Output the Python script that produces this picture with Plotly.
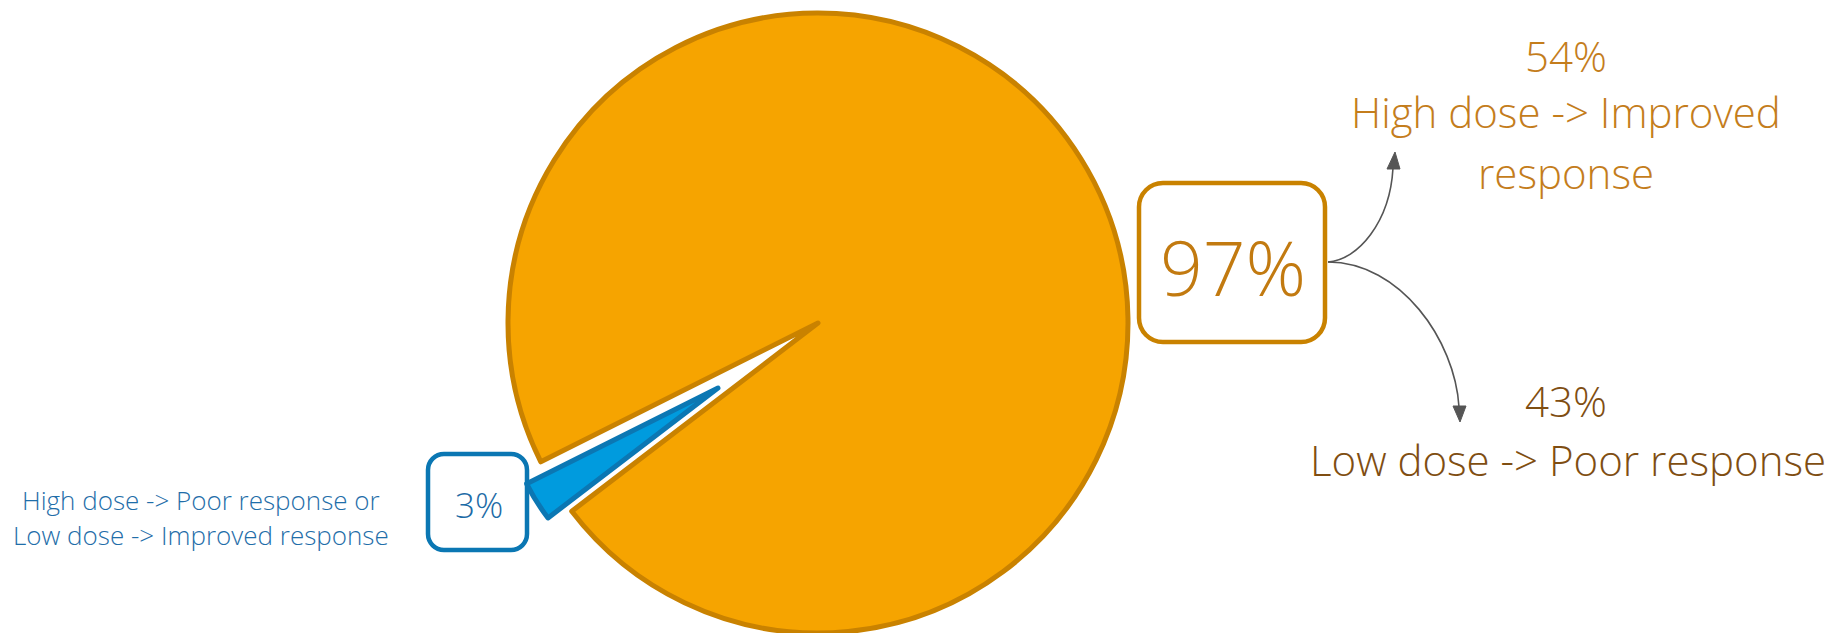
import plotly.graph_objects as go

# ---------------- data ----------------
groups = ["Concordant", "Discordant"]
shares = [97, 3]                      # % of patients
sub_shares = [54, 43]                 # split of the 97%
sub_label_lines = [["High dose -> Improved", "response"],
                   ["Low dose -> Poor response"]]
minor_label_lines = ["High dose -> Poor response or",
                     "Low dose -> Improved response"]

# ---------------- styling ----------------
W, H = 1833, 633
ORANGE, ORANGE_LINE = "#F6A400", "#C98200"
BLUE, BLUE_LINE = "#009BDE", "#0B77B3"
CLEAR = "rgba(0,0,0,0)"
FONT = "Open Sans"


def X(px):
    return px / W


def Y(py):
    return 1 - py / H


def rrect(x0, y0, x1, y1, r):
    k = 0.552 * r
    pts = [
        f"M{X(x0 + r)},{Y(y0)}", f"L{X(x1 - r)},{Y(y0)}",
        f"C{X(x1 - r + k)},{Y(y0)} {X(x1)},{Y(y0 + r - k)} {X(x1)},{Y(y0 + r)}",
        f"L{X(x1)},{Y(y1 - r)}",
        f"C{X(x1)},{Y(y1 - r + k)} {X(x1 - r + k)},{Y(y1)} {X(x1 - r)},{Y(y1)}",
        f"L{X(x0 + r)},{Y(y1)}",
        f"C{X(x0 + r - k)},{Y(y1)} {X(x0)},{Y(y1 - r + k)} {X(x0)},{Y(y1 - r)}",
        f"L{X(x0)},{Y(y0 + r)}",
        f"C{X(x0)},{Y(y0 + r - k)} {X(x0 + r - k)},{Y(y0)} {X(x0 + r)},{Y(y0)}",
        "Z",
    ]
    return " ".join(pts)


def curve(p0, p1, p2, p3):
    return (f"M{X(p0[0])},{Y(p0[1])} C{X(p1[0])},{Y(p1[1])} "
            f"{X(p2[0])},{Y(p2[1])} {X(p3[0])},{Y(p3[1])}")


def tri(a, b, c):
    return (f"M{X(a[0])},{Y(a[1])} L{X(b[0])},{Y(b[1])} "
            f"L{X(c[0])},{Y(c[1])} Z")


# geometry
cx, cy, R = 818, 323, 309          # main pie
bx, by, br = 718, 388, 214         # pulled-out small slice
# rotation: small slice centred ~32 deg below the left horizontal
mid = 270 - 32
rot = mid + shares[1] / 100 * 360 / 2 - 360

fig = go.Figure()
fig.add_trace(go.Pie(
    values=shares, labels=groups, sort=False, direction="clockwise",
    rotation=rot, textinfo="none", hoverinfo="none", showlegend=False,
    marker=dict(colors=[ORANGE, CLEAR],
                line=dict(color=[ORANGE_LINE, CLEAR], width=[5, 0])),
    domain=dict(x=[X(cx - R - 2), X(cx + R + 2)], y=[Y(cy + R + 1), Y(cy - R - 1)]),
))
fig.add_trace(go.Pie(
    values=shares, labels=groups, sort=False, direction="clockwise",
    rotation=rot, textinfo="none", hoverinfo="none", showlegend=False,
    marker=dict(colors=[CLEAR, BLUE],
                line=dict(color=[CLEAR, BLUE_LINE], width=[0, 5])),
    domain=dict(x=[X(bx - br), X(bx + br)], y=[Y(by + br), Y(by - br)]),
))

shapes = [
    dict(type="path", path=rrect(1139, 183, 1325, 342, 24), xref="paper",
         yref="paper", line=dict(color=ORANGE_LINE, width=4.5),
         fillcolor="white", layer="below"),
    dict(type="path", path=rrect(428, 454, 527, 550, 16), xref="paper",
         yref="paper", line=dict(color=BLUE_LINE, width=4.5),
         fillcolor="white", layer="below"),
    # arrows
    dict(type="path", path=curve((1328, 262), (1358, 260), (1390, 222), (1393, 168)),
         xref="paper", yref="paper", line=dict(color="#555555", width=1.6)),
    dict(type="path", path=tri((1387, 169), (1400, 169), (1395, 152)),
         xref="paper", yref="paper", line=dict(color="#555555", width=1),
         fillcolor="#555555"),
    dict(type="path", path=curve((1328, 262), (1400, 262), (1455, 340), (1459, 407)),
         xref="paper", yref="paper", line=dict(color="#555555", width=1.6)),
    dict(type="path", path=tri((1453, 406), (1466, 406), (1460, 422)),
         xref="paper", yref="paper", line=dict(color="#555555", width=1),
         fillcolor="#555555"),
]

ann = []


def txt(s, x, y, size, color):
    ann.append(dict(text=s, x=X(x), y=Y(y), xref="paper", yref="paper",
                    xanchor="center", yanchor="middle", showarrow=False,
                    font=dict(family=FONT, size=size, color=color, weight=300)))


txt(f"{shares[0]}%", 1233, 267, 75, "#C27A10")
txt(f"{shares[1]}%", 479, 505, 35, "#1D6BA6")

txt(f"{sub_shares[0]}%", 1566, 55, 42, "#C47D1C")
for i, line in enumerate(sub_label_lines[0]):
    txt(line, 1566, 112 + 60 * i, 42, "#C47D1C")
txt(f"{sub_shares[1]}%", 1566, 400, 42, "#7F4E12")
for i, line in enumerate(sub_label_lines[1]):
    txt(line, 1568, 459 + 60 * i, 42, "#7F4E12")

for i, line in enumerate(minor_label_lines):
    txt(line, 201, 500 + 35 * i, 26, "#1F6EA9")

fig.update_layout(
    width=W, height=H, margin=dict(l=0, r=0, t=0, b=0),
    paper_bgcolor="white", plot_bgcolor="white", showlegend=False,
    shapes=shapes, annotations=ann,
)

fig.write_html("out.html")
